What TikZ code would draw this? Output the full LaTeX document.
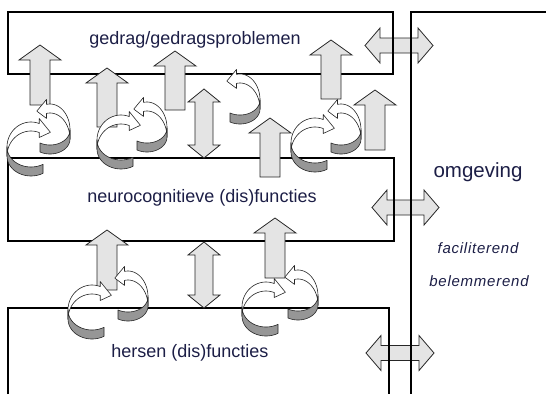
\documentclass[tikz,border=0pt]{standalone}
\usepackage{fontspec}
\setmainfont{Liberation Sans}
\definecolor{txt}{RGB}{28,30,70}
\definecolor{lite}{RGB}{228,228,228}
\definecolor{dk}{RGB}{150,150,150}
\tikzset{
  boxline/.style={line width=1.1pt, draw=black},
  blk/.style={draw=black!85, line width=0.8pt, fill=lite, line join=miter},
  ribb/.style={draw=black!85, line width=0.6pt, line join=round},
  lbl/.style={text=txt, inner sep=0pt, font=\fontsize{18}{20}\selectfont},
  side/.style={text=txt, inner sep=0pt, font=\fontsize{15}{17}\selectfont\itshape\addfontfeature{LetterSpace=5}},
}
% up block arrow: x, ybottom, ytop
\newcommand\myup[3]{%
 \draw[blk] ({#1-10},#2) -- ({#1-10},{#3+15}) -- ({#1-21},{#3+15}) -- (#1,#3)
   -- ({#1+21},{#3+15}) -- ({#1+10},{#3+15}) -- ({#1+10},#2) -- cycle;}
% vertical double arrow: x, ytop, ybottom
\newcommand\myvd[3]{%
 \draw[blk] (#1,#2) -- ({#1+16},{#2+13}) -- ({#1+9},{#2+13}) -- ({#1+9},{#3-13})
   -- ({#1+16},{#3-13}) -- (#1,#3) -- ({#1-16},{#3-13}) -- ({#1-9},{#3-13})
   -- ({#1-9},{#2+13}) -- ({#1-16},{#2+13}) -- cycle;}
% horizontal double arrow: x1, x2, y
\newcommand\myhd[3]{%
 \draw[blk] (#1,#3) -- ({#1+15},{#3-17.5}) -- ({#1+15},{#3-7.5}) -- ({#2-15},{#3-7.5})
   -- ({#2-15},{#3-17.5}) -- (#2,#3) -- ({#2-15},{#3+17.5}) -- ({#2-15},{#3+7.5})
   -- ({#1+15},{#3+7.5}) -- ({#1+15},{#3+17.5}) -- cycle;}
% left curved ribbon arrow, back part
\newcommand\myLback[2]{%
 \draw[ribb, fill=white] plot[domain=180:70, samples=25] ({#1+24*cos(\x)},{#2-25*sin(\x)})
   -- ({#1+8.21},{#2-28.5}) -- ({#1+19.4},{#2-14.7}) -- ({#1+8.21},{#2-9.5})
   -- plot[domain=70:180, samples=25] ({#1+24*cos(\x)},{#2-25*sin(\x)+9}) -- cycle;}
\newcommand\myLfront[2]{%
 \draw[ribb, fill=dk] plot[domain=180:300, samples=25] ({#1+24*cos(\x)},{#2-20*sin(\x)})
   -- plot[domain=300:180, samples=25] ({#1+24*cos(\x)},{#2-20*sin(\x)+9}) -- cycle;}
% right curved ribbon arrow
\newcommand\myRback[2]{%
 \draw[ribb, fill=white] plot[domain=0:100, samples=25] ({#1+20*cos(\x)},{#2-26*sin(\x)})
   -- ({#1-3.47},{#2-30.6}) -- ({#1-13.2},{#2-18.9}) -- ({#1-3.47},{#2-11.6})
   -- plot[domain=100:0, samples=25] ({#1+20*cos(\x)},{#2-26*sin(\x)+9}) -- cycle;}
\newcommand\myRfront[2]{%
 \draw[ribb, fill=dk] plot[domain=-120:0, samples=25] ({#1+20*cos(\x)},{#2-15*sin(\x)})
   -- plot[domain=0:-120, samples=25] ({#1+20*cos(\x)},{#2-15*sin(\x)+9}) -- cycle;}
% pair: Lx, Ly, Rx, Ry
\newcommand\mycyc[4]{\myRback{#3}{#4}\myLback{#1}{#2}\myLfront{#1}{#2}\myRfront{#3}{#4}}
\begin{document}
\begin{tikzpicture}[x=1pt,y=-1pt]
\useasboundingbox (0,0) rectangle (546,394);
% horizontal double arrows (under the vertical lines)
\myhd{365}{433}{45.5}
\myhd{372}{439}{207.5}
\myhd{366}{434}{353}
% boxes
\draw[boxline] (8,12) rectangle (393,74);
\draw[boxline] (546,12) -- (411,12) -- (411,394);
\draw[boxline] (8,158) rectangle (394,241);
\draw[boxline] (8,394) -- (8,308) -- (389,308) -- (389,394);
% labels
\node[lbl] (gedrag) at (195,40) {gedrag/gedragsproblemen};
\node[lbl] (neuro) at (202,198) {neurocognitieve (dis)functies};
\node[lbl] (hersen) at (190,353) {hersen (dis)functies};
\node[lbl, font=\fontsize{20.5}{22}\selectfont] (omg) at (478,172) {omgeving};
\node[side] (fac) at (478,248) {faciliterend};
\node[side] (bel) at (479,281) {belemmerend};
% straight arrows
\myup{40}{105}{45}
\myup{107}{127}{68}
\myup{175}{110}{51}
\myup{331}{99}{40}
\myup{375}{150}{90}
\myup{270}{177}{118}
\myup{107}{290}{230}
\myup{275}{278}{218}
\myvd{204}{89}{158}
\myvd{204}{242}{308}
% curved ribbon arrows
\mycyc{31}{147}{50}{130}
\mycyc{121}{140}{147}{128}
\myRback{240}{100}\myRfront{240}{100}
\mycyc{315}{143}{341}{130}
\mycyc{92}{310}{128}{297}
\mycyc{266}{307}{298}{296}
\end{tikzpicture}
\end{document}
